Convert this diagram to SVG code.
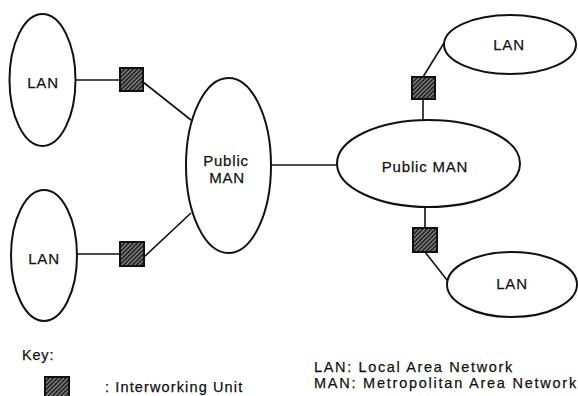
<svg xmlns="http://www.w3.org/2000/svg" width="578" height="396" viewBox="0 0 578 396">
<style>
  .node { fill: none; stroke: #111; stroke-width: 2; }
  .conn { stroke: #111; stroke-width: 1.6; fill: none; }
  .iwu { fill: url(#hatch); stroke: #111; stroke-width: 2; }
  text { font-family: "Liberation Sans", Arial, Helvetica, sans-serif; font-size: 15px; fill: #111; letter-spacing: 0.8px; stroke: #111; stroke-width: 0.25; }
  .c { text-anchor: middle; }
  .k { font-size: 14.5px; }
</style>
<defs>
  <pattern id="hatch" width="3" height="3" patternUnits="userSpaceOnUse" patternTransform="rotate(45)">
    <rect width="3" height="3" fill="#2a2a2a"/>
    <line x1="0.5" y1="0" x2="0.5" y2="3" stroke="#a0a0a0" stroke-width="0.9"/>
  </pattern>
</defs>
<rect width="578" height="396" fill="#fff"/>
<g id="connectors">
  <line class="conn" x1="76" y1="80" x2="120" y2="80"/>
  <line class="conn" x1="143" y1="82" x2="191" y2="120"/>
  <line class="conn" x1="77" y1="254" x2="120" y2="254"/>
  <line class="conn" x1="144" y1="257" x2="191" y2="213"/>
  <line class="conn" x1="271" y1="165" x2="337" y2="165"/>
  <line class="conn" x1="423" y1="77" x2="444" y2="43"/>
  <line class="conn" x1="423" y1="99" x2="423" y2="120"/>
  <line class="conn" x1="425" y1="207" x2="425" y2="228"/>
  <line class="conn" x1="425" y1="252" x2="447" y2="280"/>
</g>
<g id="lan-tl"><ellipse class="node" cx="42.5" cy="80" rx="33" ry="66"/><text class="c" x="43" y="88">LAN</text></g>
<g id="lan-bl"><ellipse class="node" cx="44" cy="255.5" rx="33" ry="65.5"/><text class="c" x="44" y="264">LAN</text></g>
<g id="man-left"><ellipse class="node" cx="228.5" cy="165.5" rx="42.5" ry="87.5"/><text class="c" x="226" y="166">Public</text><text class="c" x="227" y="183">MAN</text></g>
<g id="man-right"><ellipse class="node" cx="428.5" cy="163.5" rx="91.5" ry="43.5"/><text class="c" x="425" y="172">Public MAN</text></g>
<g id="lan-tr"><ellipse class="node" cx="510" cy="44.5" rx="66" ry="29.5"/><text class="c" x="509" y="50">LAN</text></g>
<g id="lan-br"><ellipse class="node" cx="512" cy="284.5" rx="65" ry="32.5"/><text class="c" x="512" y="289">LAN</text></g>
<g id="iwu-tl"><rect class="iwu" x="120" y="68" width="23" height="23"/></g>
<g id="iwu-bl"><rect class="iwu" x="120" y="242" width="24" height="24"/></g>
<g id="iwu-tr"><rect class="iwu" x="412" y="77" width="23" height="22"/></g>
<g id="iwu-br"><rect class="iwu" x="413" y="228" width="24" height="24"/></g>
<g id="key">
  <text class="k" x="22" y="360">Key:</text>
  <rect class="iwu" x="45" y="377" width="24" height="24"/>
  <text class="k" x="105" y="392" textLength="138" lengthAdjust="spacing">: Interworking Unit</text>
  <text class="k" x="314" y="372" textLength="199" lengthAdjust="spacing">LAN: Local Area Network</text>
  <text class="k" x="314" y="388" textLength="263" lengthAdjust="spacing">MAN: Metropolitan Area Network</text>
</g>
</svg>
